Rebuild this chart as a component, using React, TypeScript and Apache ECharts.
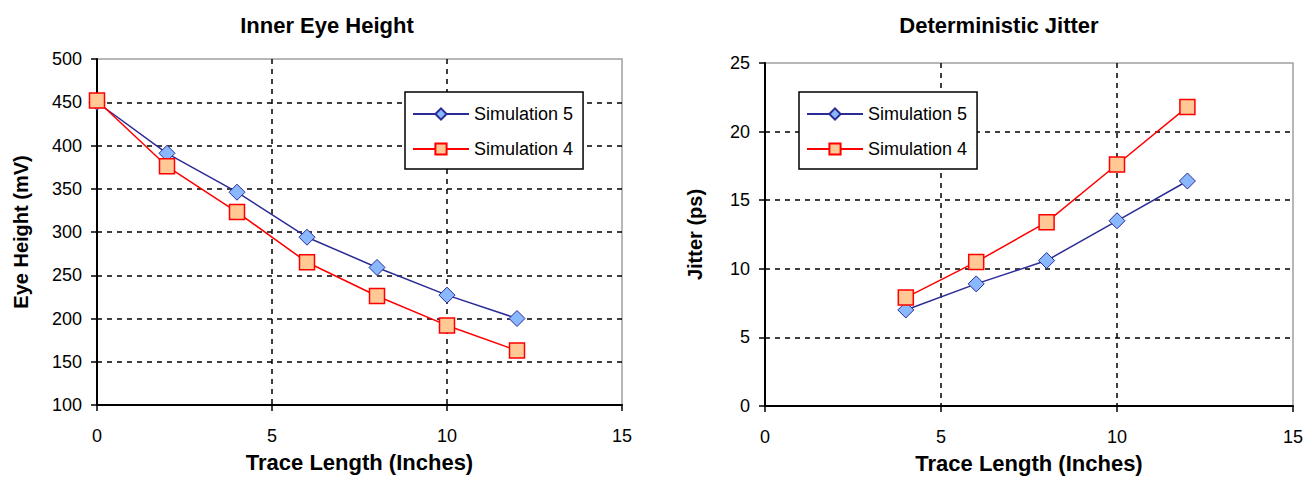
import React, { useEffect, useRef } from "react";
import * as echarts from "echarts";

const traceLength = [0, 2, 4, 6, 8, 10, 12];
const eyeSim5 = [450, 391, 346, 294, 259, 227, 200];
const eyeSim4 = [452, 376, 323, 265, 226, 192, 163];

const jitterLength = [4, 6, 8, 10, 12];
const jitterSim5 = [7.0, 8.9, 10.6, 13.5, 16.4];
const jitterSim4 = [7.9, 10.5, 13.4, 17.6, 21.8];

const SIM5 = "Simulation 5";
const SIM4 = "Simulation 4";

const FONT = "'Liberation Sans', Arial, sans-serif";

export default function App() {
  const ref = useRef<HTMLDivElement>(null);
  useEffect(() => {
    document.body.style.margin = "0";
    const chart = echarts.init(ref.current!, null, { renderer: "svg" });

    const pair = (a: number[], b: number[]) => a.map((x, i) => [x, b[i]]);

    const blueStyle = (xi: number) => ({
      name: SIM5,
      type: "line",
      xAxisIndex: xi,
      yAxisIndex: xi,
      symbol: "diamond",
      symbolSize: 16,
      lineStyle: { color: "#2b2b96", width: 1.5 },
      itemStyle: { color: "#8ab8ff", borderColor: "#2b2b96", borderWidth: 1 },
      z: 3,
    });
    const redStyle = (xi: number) => ({
      name: SIM4,
      type: "line",
      xAxisIndex: xi,
      yAxisIndex: xi,
      symbol: "rect",
      symbolSize: 15,
      lineStyle: { color: "#ff0000", width: 1.5 },
      itemStyle: { color: "#ffc895", borderColor: "#ff0000", borderWidth: 1.5 },
      z: 4,
    });

    const split = {
      show: true,
      showMinLine: false,
      showMaxLine: false,
      lineStyle: { color: "#000", type: [5, 5], width: 1.5 },
    };

    const xAxisBase = (gi: number) => ({
      type: "value",
      gridIndex: gi,
      min: 0,
      max: 15,
      interval: 5,
      name: "Trace Length (Inches)",
      nameLocation: "middle",
      nameGap: 46,
      nameTextStyle: { fontFamily: FONT, fontWeight: "bold", fontSize: 22, color: "#000" },
      axisLine: { onZero: false, lineStyle: { color: "#000", width: 2 } },
      axisTick: { show: true, length: 6, lineStyle: { color: "#000", width: 1.5 } },
      axisLabel: { fontFamily: FONT, fontSize: 18, color: "#000", margin: 22 },
      splitLine: split,
    });

    const yAxisBase = (gi: number, min: number, max: number, interval: number, name: string, gap: number) => ({
      type: "value",
      gridIndex: gi,
      min,
      max,
      interval,
      name,
      nameLocation: "middle",
      nameGap: gap,
      nameTextStyle: { fontFamily: FONT, fontWeight: "bold", fontSize: 20, color: "#000" },
      axisLine: { show: true, onZero: false, lineStyle: { color: "#000", width: 2 } },
      axisTick: { show: true, length: 6, lineStyle: { color: "#000", width: 1.5 } },
      axisLabel: { fontFamily: FONT, fontSize: 18, color: "#000", margin: 15 },
      splitLine: split,
    });

    const legendBase = (left: number) => ({
      orient: "vertical",
      left,
      top: 92,
      data: [SIM5, SIM4],
      backgroundColor: "#fff",
      borderColor: "#000",
      borderWidth: 1.5,
      borderRadius: 0,
      padding: [13, 10, 11, 7],
      itemWidth: 56,
      itemHeight: 14,
      itemGap: 17,
      textStyle: { fontFamily: FONT, fontSize: 18, color: "#000" },
      selectedMode: false,
    });

    chart.setOption({
      animation: false,
      backgroundColor: "#fff",
      title: [
        {
          text: "Inner Eye Height",
          left: 322,
          top: 9,
          textAlign: "center",
          textStyle: { fontFamily: FONT, fontWeight: "bold", fontSize: 22, color: "#000" },
        },
        {
          text: "Deterministic Jitter",
          left: 994,
          top: 9,
          textAlign: "center",
          textStyle: { fontFamily: FONT, fontWeight: "bold", fontSize: 22, color: "#000" },
        },
      ],
      legend: [legendBase(405), legendBase(799)],
      grid: [
        { left: 97, right: 692, top: 59, bottom: 74, show: true, borderColor: "#a0a0a0", borderWidth: 1.5 },
        { left: 765, right: 21, top: 63, bottom: 73, show: true, borderColor: "#a0a0a0", borderWidth: 1.5 },
      ],
      xAxis: [xAxisBase(0), xAxisBase(1)],
      yAxis: [
        yAxisBase(0, 100, 500, 50, "Eye Height (mV)", 66),
        yAxisBase(1, 0, 25, 5, "Jitter (ps)", 60),
      ],
      series: [
        { ...blueStyle(0), data: pair(traceLength, eyeSim5) },
        { ...redStyle(0), data: pair(traceLength, eyeSim4) },
        { ...blueStyle(1), data: pair(jitterLength, jitterSim5) },
        { ...redStyle(1), data: pair(jitterLength, jitterSim4) },
      ],
    });
    return () => chart.dispose();
  }, []);
  return <div ref={ref} style={{ width: 1314, height: 479 }} />;
}
